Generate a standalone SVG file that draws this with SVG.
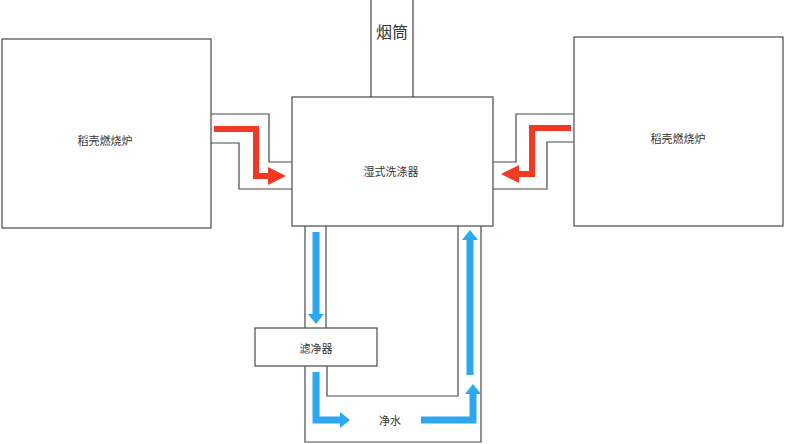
<svg xmlns="http://www.w3.org/2000/svg" width="785" height="444" viewBox="0 0 785 444">
<style>
.box{fill:#fff;stroke:#4a4a4a;stroke-width:1.2}
.ln{fill:none;stroke:#4a4a4a;stroke-width:1.2}
.t{font-family:"Noto Sans CJK SC","Liberation Serif",serif;fill:#333;text-anchor:middle;dominant-baseline:central}
.red{fill:none;stroke:#f23a22;stroke-width:6}
.blue{fill:none;stroke:#2ba8f0;stroke-width:7}
</style>
<defs>
<marker id="hr" markerUnits="userSpaceOnUse" viewBox="0 0 18 18" markerWidth="18" markerHeight="18" refX="0" refY="9" orient="auto"><path d="M0,0 L18,9 L0,18 z" fill="#f23a22"/></marker>
<marker id="hb" markerUnits="userSpaceOnUse" viewBox="0 0 10 16" markerWidth="10" markerHeight="16" refX="0" refY="8" orient="auto"><path d="M0,0 L10,8 L0,16 z" fill="#2ba8f0"/></marker>
</defs>
<rect width="785" height="444" fill="#fff"/>
<g id="connectors">
<path class="ln" d="M211,114 H269 V162 H292"/>
<path class="ln" d="M211,143 H239 V189 H292"/>
<path class="ln" d="M574,114 H516 V162 H493"/>
<path class="ln" d="M574,142 H547 V189 H493"/>
<path class="ln" d="M305,226 V328"/>
<path class="ln" d="M326,226 V328"/>
<path class="ln" d="M327,366 V396 H458 V226"/>
<path class="ln" d="M305,366 V442 H481 V226"/>
<path class="red" d="M214,129 H256 V176 H268" marker-end="url(#hr)"/>
<path class="red" d="M571,128 H532 V174 H519" marker-end="url(#hr)"/>
<path class="blue" d="M316,232 V314" marker-end="url(#hb)"/>
<path class="blue" d="M470,375 V240" marker-end="url(#hb)"/>
<path class="blue" d="M316,372 V420 H340" marker-end="url(#hb)"/>
<path class="blue" d="M421,420 H473 V394" marker-end="url(#hb)"/>
</g>
<g id="chimney">
<path class="ln" d="M371,0 V97 M413,0 V97"/>
<text class="t" x="392" y="31" font-size="16">烟筒</text>
</g>
<g id="furnace-left">
<rect class="box" x="2" y="39" width="209" height="189"/>
<text class="t" x="105" y="140" font-size="11">稻壳燃烧炉</text>
</g>
<g id="furnace-right">
<rect class="box" x="574" y="37" width="209" height="189"/>
<text class="t" x="678" y="138" font-size="11">稻壳燃烧炉</text>
</g>
<g id="scrubber">
<rect class="box" x="292" y="97" width="201" height="129"/>
<text class="t" x="391" y="171" font-size="11">湿式洗涤器</text>
</g>
<g id="filter">
<rect class="box" x="255" y="328" width="122" height="38"/>
<text class="t" x="316" y="348" font-size="11">滤净器</text>
</g>
<g id="clean-water">
<text class="t" x="390" y="420" font-size="11">净水</text>
</g>
</svg>
